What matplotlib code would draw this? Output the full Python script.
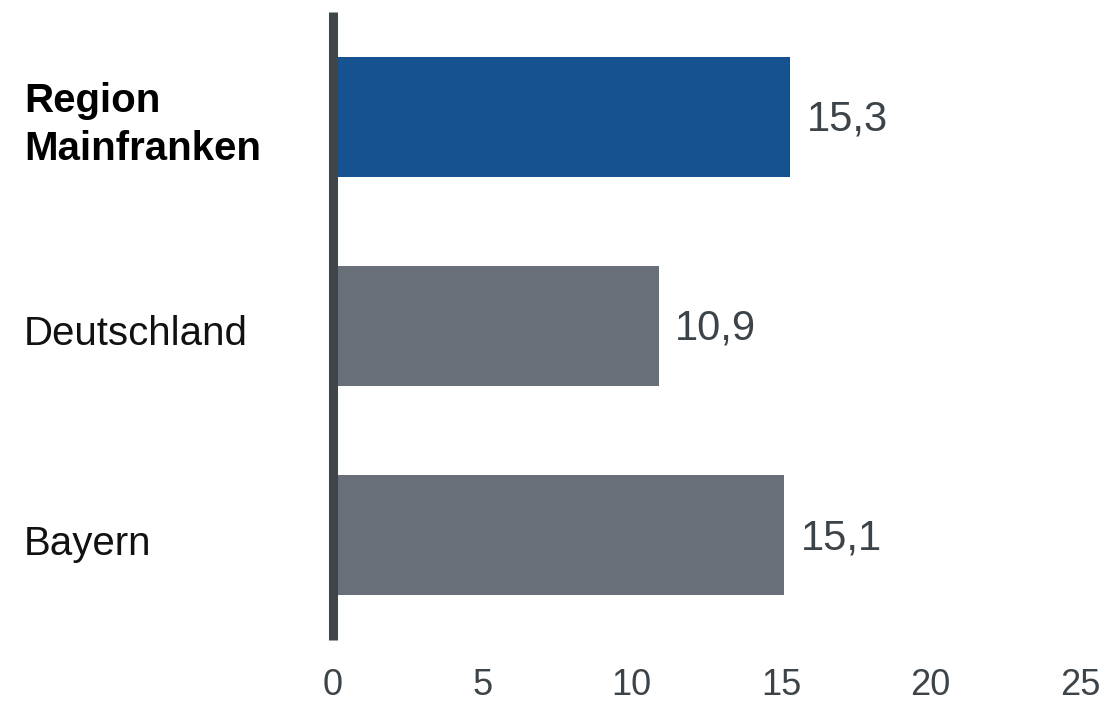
import matplotlib
matplotlib.use("Agg")
import matplotlib.pyplot as plt
import matplotlib.transforms as mtransforms

categories = ["Bayern", "Deutschland", "Region\nMainfranken"]
values = [15.1, 10.9, 15.3]
value_labels = ["15,1", "10,9", "15,3"]
bold = [False, False, True]
colors = ["#686f78", "#686f78", "#175290"]
xticks = [0, 5, 10, 15, 20, 25]

plt.rcParams['font.family'] = ['Liberation Sans', 'DejaVu Sans']
fig = plt.figure(figsize=(11.09, 7.04), dpi=100)
ax = fig.add_axes([333/1109, 1-640/704, (1080-333)/1109, (640-12)/704])

ypos = list(range(len(categories)))
ax.barh(ypos, values, height=0.573, color=colors, zorder=2)
ax.set_xlim(0, 25)
ax.set_ylim(-0.5, 2.5)

for s in ["top", "right", "bottom"]:
    ax.spines[s].set_visible(False)
ax.spines["left"].set_linewidth(6.5)
ax.spines["left"].set_color("#3f4649")
ax.spines["left"].set_zorder(3)
ax.spines["left"].set_capstyle("butt")

ax.set_yticks([])
ax.set_xticks(xticks)
ax.set_xticklabels([str(t) for t in xticks], fontsize=26, color="#3d4449")
ax.tick_params(axis="x", length=0, pad=20)

for y, v, lab in zip(ypos, values, value_labels):
    ax.annotate(lab, (v, y), xytext=(12, -2), textcoords="offset points",
                ha="left", va="center", fontsize=30, color="#3d4449")

trans = mtransforms.blended_transform_factory(fig.transFigure, ax.transData)
for y, cat, b in zip(ypos, categories, bold):
    ax.annotate(cat, (24/1109, y), xycoords=trans, xytext=(0, -6),
                textcoords="offset points", ha="left", va="center",
                fontsize=29, fontweight="bold" if b else "normal",
                color="#000000" if b else "#111111", linespacing=1.35)

fig.savefig("out.png", dpi=100)
